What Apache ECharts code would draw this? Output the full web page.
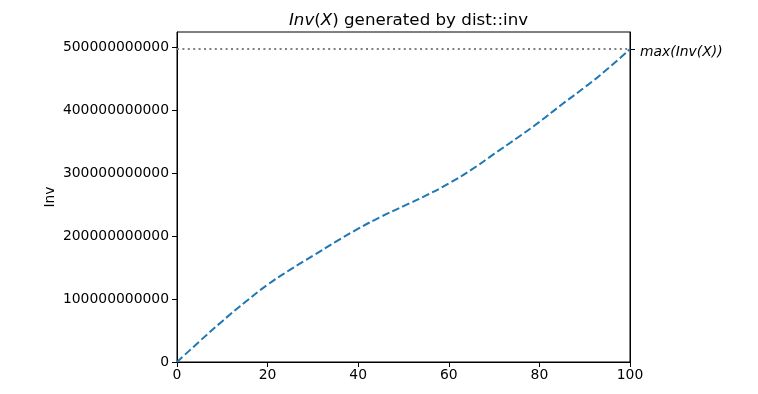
<!DOCTYPE html>
<html>
<head>
<meta charset="utf-8">
<script src="https://cdn.jsdelivr.net/npm/echarts@6/dist/echarts.min.js"></script>
<style>html,body{margin:0;padding:0;background:#fff}#c{width:758px;height:394px}</style>
</head>
<body>
<div id="c"></div>
<script>
var xValues = [0, 5, 10, 15, 20, 25, 30, 35, 40, 45, 50, 55, 60, 65, 70, 75, 80, 85, 90, 95, 100];
var invValues = [0, 33e9, 65e9, 95e9, 123e9, 147e9, 169e9, 191e9, 212e9, 231e9, 248e9, 265e9, 284e9, 306e9, 331e9, 356e9, 382e9, 410e9, 437e9, 466e9, 498e9];
var xTicks = [0, 20, 40, 60, 80, 100];
var yTicks = [0, 100e9, 200e9, 300e9, 400e9, 500e9];
var maxInv = 498e9;

var FONT = 'DejaVu Sans';
var chart = echarts.init(document.getElementById('c'), null, {renderer: 'canvas'});
var seriesData = xValues.map(function (x, i) { return [x, invValues[i]]; });

chart.setOption({
  animation: false,
  backgroundColor: '#fff',
  title: {
    text: '{i|Inv}({i|X}) generated by dist::inv',
    left: 403.5,
    textAlign: 'center',
    top: 7,
    textStyle: {
      fontFamily: FONT, fontSize: 16.7, fontWeight: 'normal', color: '#000',
      rich: { i: { fontFamily: FONT, fontSize: 16.7, fontStyle: 'italic', color: '#000' } }
    }
  },
  grid: { left: 177, right: 128, top: 32, bottom: 32, show: true, borderColor: '#000', borderWidth: 1, containLabel: false },
  xAxis: {
    type: 'value', min: 0, max: 100, interval: 20,
    axisLine: { show: true, lineStyle: { color: '#000', width: 1 } },
    axisTick: { show: true, length: 5, lineStyle: { color: '#000' }, customValues: xTicks },
    axisLabel: { fontFamily: FONT, fontSize: 13.9, color: '#000', margin: 6, customValues: xTicks },
    splitLine: { show: false }
  },
  yAxis: [{
    type: 'value', min: 0, max: 525e9, interval: 100e9,
    name: 'Inv', nameLocation: 'middle', nameGap: 120, nameMoveOverlap: false,
    nameTextStyle: { fontFamily: FONT, fontSize: 13.9, color: '#000' },
    axisLine: { show: true, lineStyle: { color: '#000', width: 1 } },
    axisTick: { show: true, length: 5, lineStyle: { color: '#000' }, customValues: yTicks },
    axisLabel: { fontFamily: FONT, fontSize: 13.9, color: '#000', margin: 8, customValues: yTicks,
      formatter: function (v) { return String(Math.round(v)); } },
    splitLine: { show: false }
  }, {
    type: 'value', min: 0, max: 525e9, position: 'right',
    axisLine: { show: true, lineStyle: { color: '#000', width: 1 } },
    axisTick: { show: true, length: 5, lineStyle: { color: '#000' }, customValues: [maxInv] },
    axisLabel: { fontFamily: FONT, fontSize: 13.9, color: '#000', margin: 10, customValues: [maxInv],
      formatter: function () { return '{m|max(Inv(X))}'; },
      rich: { m: { fontFamily: FONT, fontSize: 13.9, fontStyle: 'italic', color: '#000', padding: [6, 0, 0, 0] } } },
    splitLine: { show: false }
  }],
  series: [{
    type: 'line',
    data: seriesData,
    smooth: 0.5,
    showSymbol: false,
    lineStyle: { color: '#1f77b4', width: 2, type: [7.7, 3.3] },
    markLine: {
      silent: true,
      symbol: ['none', 'none'],
      label: { show: false },
      lineStyle: { color: '#808080', width: 2, type: [2, 3.4] },
      data: [{ yAxis: maxInv }]
    }
  }]
});
</script>
</body>
</html>
